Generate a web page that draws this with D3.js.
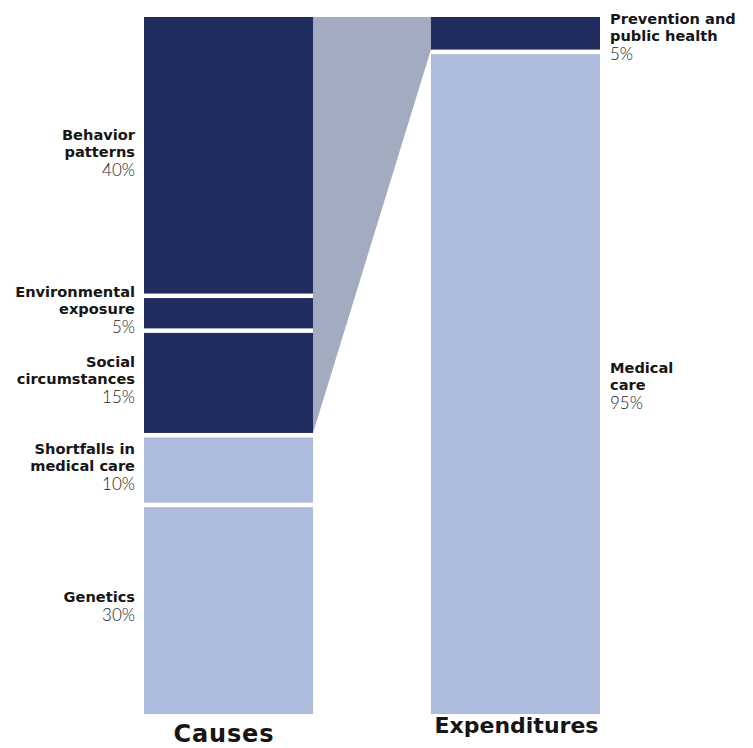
<!DOCTYPE html>
<html>
<head>
<meta charset="utf-8">
<script src="https://cdn.jsdelivr.net/npm/d3@7"></script>
<style>
  html, body { margin: 0; padding: 0; background: #fff; }
  svg { display: block; }
</style>
</head>
<body>
<svg id="chart" width="753" height="748"></svg>
<script>
// Stacked shares: where health outcomes come from vs. where spending goes
const columns = ["Causes", "Expenditures"];

const causeNames = [
  ["Behavior", "patterns"],
  ["Environmental", "exposure"],
  ["Social", "circumstances"],
  ["Shortfalls in", "medical care"],
  ["Genetics"]
];
const causeValues = [40, 5, 15, 10, 30];
const causeGroups = ["dark", "dark", "dark", "light", "light"];

const spendNames = [
  ["Prevention and", "public health"],
  ["Medical", "care"]
];
const spendValues = [5, 95];
const spendGroups = ["dark", "light"];

const colors = { dark: "#222d5f", light: "#adbcdd", link: "#a3abc0" };

const svg = d3.select("#chart");
const gap = 4.5;

const x = d3.scaleBand().domain(columns).range([144, 600]).paddingInner(0.411).paddingOuter(0);
const y = d3.scaleLinear().domain([0, 100]).range([17, 714]);

function stack(values, names, groups) {
  let acc = 0;
  return values.map((v, i) => {
    const d = { v, y0: acc, y1: acc + v, names: names[i], group: groups[i], first: i === 0, last: i === values.length - 1 };
    acc += v;
    return d;
  });
}

const causes = stack(causeValues, causeNames, causeGroups);
const spend = stack(spendValues, spendNames, spendGroups);

// Connector between the "dark" portions of both columns
const darkCauseEnd = d3.sum(causeValues.filter((v, i) => causeGroups[i] === "dark"));
const darkSpendEnd = d3.sum(spendValues.filter((v, i) => spendGroups[i] === "dark"));
const cx1 = x("Causes") + x.bandwidth();
const ex0 = x("Expenditures");
svg.append("path")
  .attr("d", d3.line()([
    [cx1, y(0)], [ex0, y(0)],
    [ex0, y(darkSpendEnd) - gap / 2],
    [cx1, y(darkCauseEnd) - gap / 2]
  ]) + "Z")
  .attr("fill", colors.link);

function drawColumn(data, col) {
  svg.append("g").selectAll("rect")
    .data(data)
    .join("rect")
    .attr("x", x(col))
    .attr("width", x.bandwidth())
    .attr("y", d => y(d.y0) + (d.first ? 0 : gap / 2))
    .attr("height", d => y(d.y1) - y(d.y0) - (d.first ? 0 : gap / 2) - (d.last ? 0 : gap / 2))
    .attr("fill", d => colors[d.group]);
}
drawColumn(causes, "Causes");
drawColumn(spend, "Expenditures");

const nameFont = "'DejaVu Sans', sans-serif";
const pctFont = "Lato, 'Open Sans', sans-serif";

function drawLabels(data, anchor, lx, offset) {
  data.forEach(d => {
    const mid = (y(d.y0) + y(d.y1)) / 2 + offset;
    const n = d.names.length;
    const blockH = (n - 1) * 17 + 19 + 10;
    const base = mid - blockH / 2 + 10;
    const g = svg.append("g");
    d.names.forEach((line, i) => {
      g.append("text")
        .attr("x", lx).attr("y", base + i * 17)
        .attr("text-anchor", anchor)
        .attr("font-family", nameFont)
        .attr("font-weight", "bold")
        .attr("font-size", 14.6)
        .attr("fill", "#161616")
        .text(line);
    });
    g.append("text")
      .attr("x", lx).attr("y", base + (n - 1) * 17 + 19)
      .attr("text-anchor", anchor)
      .attr("font-family", pctFont)
      .attr("font-weight", 300)
      .attr("font-size", 17)
      .attr("fill", "#222")
      .text(d.v + "%");
  });
}
drawLabels(causes, "end", x("Causes") - 9, -3);
drawLabels(spend, "start", x("Expenditures") + x.bandwidth() + 10, 3);

// Column titles
svg.append("text")
  .attr("x", x("Causes") + x.bandwidth() / 2 - 5)
  .attr("y", 742)
  .attr("text-anchor", "middle")
  .attr("font-family", nameFont)
  .attr("font-weight", "bold")
  .attr("font-size", 24)
  .attr("fill", "#161616")
  .attr("textLength", 100)
  .text("Causes");
svg.append("text")
  .attr("x", x("Expenditures") + x.bandwidth() / 2 + 1)
  .attr("y", 733)
  .attr("text-anchor", "middle")
  .attr("font-family", nameFont)
  .attr("font-weight", "bold")
  .attr("font-size", 22)
  .attr("fill", "#161616")
  .text("Expenditures");
</script>
</body>
</html>
